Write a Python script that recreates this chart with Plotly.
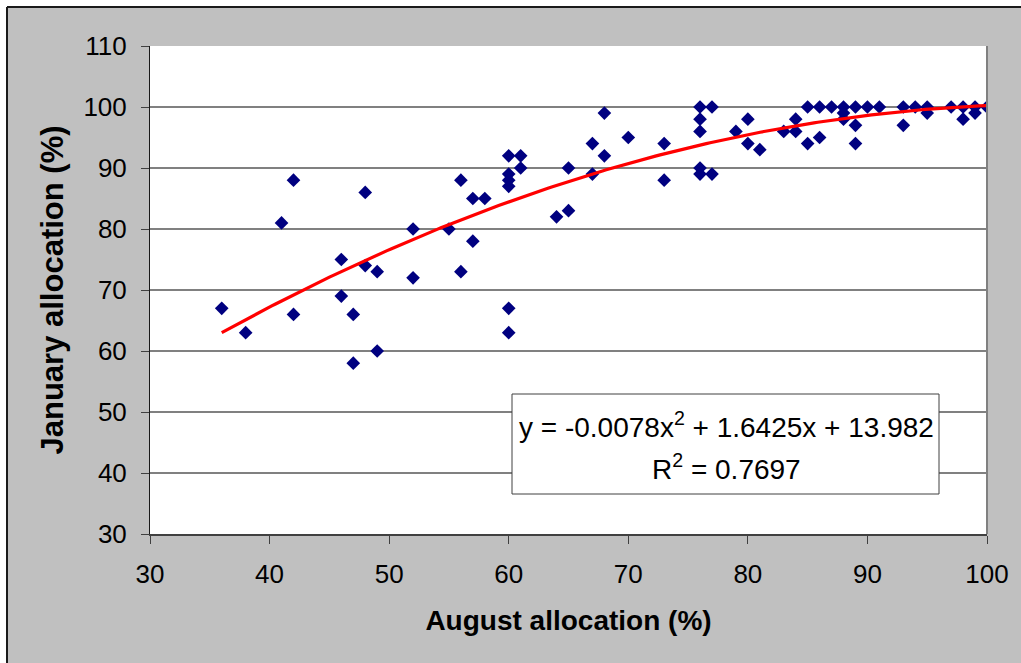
import numpy as np
import plotly.graph_objects as go

# ---- data ----
august = [36, 38, 41, 42, 42, 46, 46, 47, 47, 48, 48, 49, 49, 52, 52, 55, 56, 56, 57, 57,
          58, 60, 60, 60, 60, 60, 60, 61, 61, 64, 65, 65, 67, 67, 68, 68, 70, 73, 73, 76,
          76, 76, 76, 76, 77, 77, 79, 80, 80, 81, 83, 84, 84, 85, 85, 86, 86, 87, 88, 88,
          88, 89, 89, 89, 90, 91, 93, 93, 94, 95, 95, 97, 98, 98, 99, 99, 100]
january = [67, 63, 81, 88, 66, 75, 69, 66, 58, 86, 74, 73, 60, 80, 72, 80, 88, 73, 85, 78,
           85, 92, 89, 88, 87, 67, 63, 92, 90, 82, 83, 90, 94, 89, 99, 92, 95, 94, 88, 100,
           98, 96, 90, 89, 100, 89, 96, 98, 94, 93, 96, 98, 96, 100, 94, 100, 95, 100, 100, 99,
           98, 100, 97, 94, 100, 100, 100, 97, 100, 100, 99, 100, 100, 98, 100, 99, 100]

# polynomial trendline coefficients as printed on the chart (a*x^2 + b*x + c)
trend_coef = [-0.0078, 1.6425, 13.982]
trend_label = "y = -0.0078x<sup>2</sup> + 1.6425x + 13.982"
r2_label = "R<sup>2</sup> = 0.7697"

x_ticks = [30, 40, 50, 60, 70, 80, 90, 100]
y_ticks = [30, 40, 50, 60, 70, 80, 90, 100, 110]

# ---- layout geometry (pixels) ----
W, H = 1021, 663
L, R, T, B = 150, 987, 46, 534

FONT = "Liberation Sans, Arial, sans-serif"

tx = np.linspace(min(august), max(august), 200)
ty = np.polyval(trend_coef, tx)

fig = go.Figure()
fig.add_trace(go.Scatter(
    x=august, y=january, mode="markers",
    marker=dict(symbol="diamond", size=10.5, color="#000080", line=dict(width=0)),
    showlegend=False, hoverinfo="x+y"))
fig.add_trace(go.Scatter(
    x=tx, y=ty, mode="lines", line=dict(color="#ff0000", width=3.2),
    showlegend=False, hoverinfo="skip"))

def px_x(p):
    return (p - L) / (R - L)

def px_y(p):
    return (B - p) / (B - T)

shapes = [
    # white strips outside the chart frame (top and left)
    dict(type="rect", xref="paper", yref="paper", x0=px_x(-5), x1=px_x(7), y0=px_y(H + 5), y1=px_y(-5),
         fillcolor="white", line=dict(width=0), layer="below"),
    dict(type="rect", xref="paper", yref="paper", x0=px_x(-5), x1=px_x(W + 5), y0=px_y(7), y1=px_y(-5),
         fillcolor="white", line=dict(width=0), layer="below"),
    # frame lines
    dict(type="line", xref="paper", yref="paper", x0=px_x(7), x1=px_x(7), y0=px_y(H + 5), y1=px_y(7),
         line=dict(color="#1a1a1a", width=2)),
    dict(type="line", xref="paper", yref="paper", x0=px_x(7), x1=px_x(W + 5), y0=px_y(7), y1=px_y(7),
         line=dict(color="#1a1a1a", width=2)),
    # right border of plot area
    dict(type="line", xref="paper", yref="paper", x0=1, x1=1, y0=0, y1=1,
         line=dict(color="#808080", width=2)),
    # equation box
    dict(type="rect", xref="paper", yref="paper", x0=px_x(512), x1=px_x(939), y0=px_y(494), y1=px_y(394),
         fillcolor="white", line=dict(color="#404040", width=1), layer="above"),
]

annotations = [
    dict(xref="paper", yref="paper", x=px_x(726), y=px_y(425), text=trend_label, showarrow=False,
         xanchor="center", yanchor="middle", font=dict(family=FONT, size=28, color="black")),
    dict(xref="paper", yref="paper", x=px_x(726), y=px_y(467), text=r2_label, showarrow=False,
         xanchor="center", yanchor="middle", font=dict(family=FONT, size=28, color="black")),
]

fig.update_layout(
    width=W, height=H,
    margin=dict(l=L, r=W - R, t=T, b=H - B, autoexpand=False),
    paper_bgcolor="#c0c0c0", plot_bgcolor="white",
    font=dict(family=FONT, size=26, color="black"),
    shapes=shapes, annotations=annotations,
    xaxis=dict(
        range=[30, 100], tickvals=x_ticks, ticktext=[str(v) for v in x_ticks],
        showgrid=False, zeroline=False, showline=True, linecolor="#404040", linewidth=2,
        ticks="outside", ticklen=8, tickcolor="#404040", tickwidth=1,
        tickfont=dict(family=FONT, size=26, color="black"), ticklabelstandoff=8,
        title=dict(text="<b>August allocation (%)</b>", font=dict(family=FONT, size=28, color="black"),
                   standoff=22),
        automargin=False, fixedrange=True,
    ),
    yaxis=dict(
        range=[30, 110], tickvals=y_ticks, ticktext=[str(v) for v in y_ticks],
        showgrid=True, gridcolor="#808080", gridwidth=1.5, zeroline=False,
        showline=True, linecolor="#1a1a1a", linewidth=1,
        ticks="outside", ticklen=8, tickcolor="#404040", tickwidth=1,
        tickfont=dict(family=FONT, size=26, color="black"), ticklabelstandoff=9,
        title=dict(text="<b>January allocation (%)</b>", font=dict(family=FONT, size=31, color="black"),
                   standoff=10),
        automargin=False, fixedrange=True,
    ),
)

fig.write_html(
    "out.html",
    config={"displayModeBar": False},
    post_script="document.body.style.margin='0';document.body.style.overflow='hidden';",
)
